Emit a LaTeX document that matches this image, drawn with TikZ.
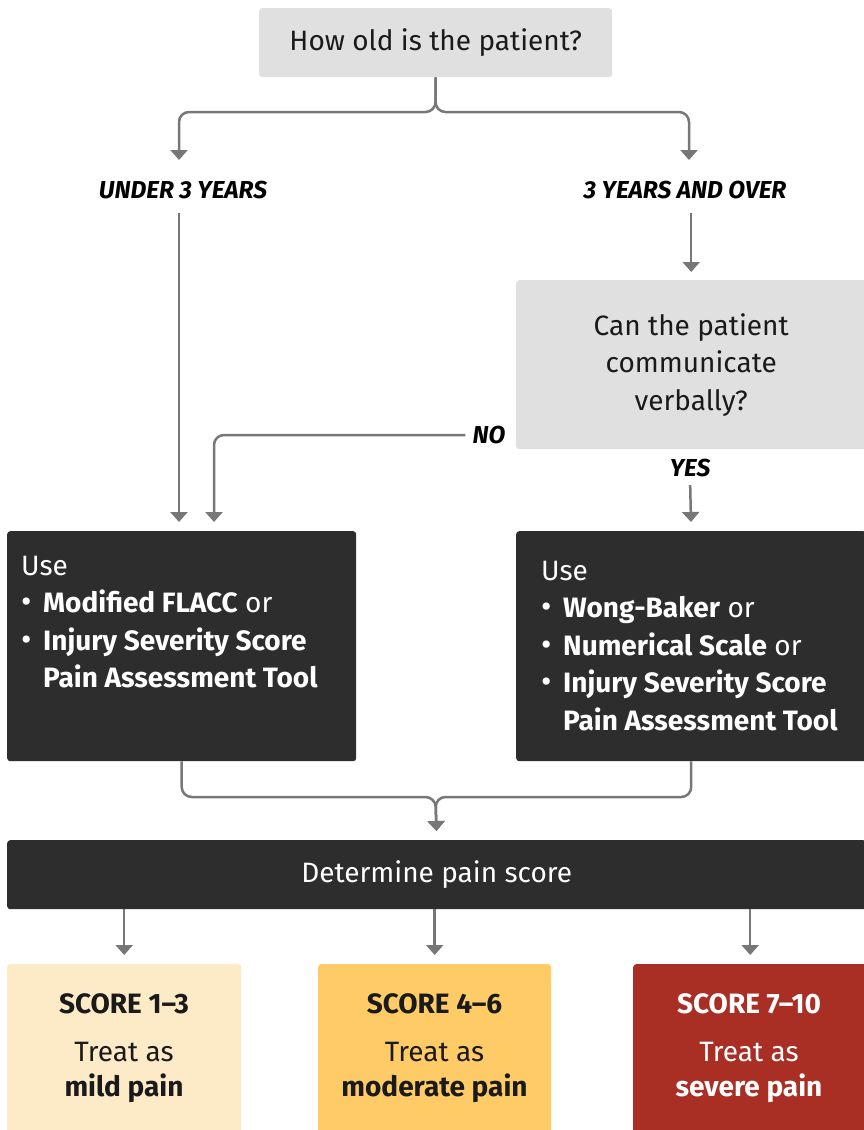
\documentclass[tikz,border=0pt]{standalone}
\usepackage{fontspec}
\setmainfont{Fira Sans}
\usetikzlibrary{arrows.meta,calc}
\definecolor{lgray}{HTML}{E0E0E0}
\definecolor{dark}{HTML}{2D2D2D}
\definecolor{lineg}{HTML}{777777}
\definecolor{mild}{HTML}{FDEBC8}
\definecolor{moder}{HTML}{FECB66}
\definecolor{severe}{HTML}{A92E24}
\definecolor{ink}{HTML}{1A1A1A}
\newcommand\blt{\makebox[22pt][l]{{\fontsize{32}{32}\selectfont•}}}
\newcommand\bsp{\makebox[22pt][l]{}}
\begin{document}
\begin{tikzpicture}[x=1pt,y=-1pt,
  box/.style={rounded corners=3pt, inner sep=0pt, anchor=north west},
  conn/.style={draw=lineg, line width=2.5pt, rounded corners=10pt},
  arr/.style={conn, -{Triangle[width=17pt,length=10pt]}},
  lab/.style={font=\fontsize{24.5}{28}\selectfont\bfseries\itshape, text=black, inner sep=0pt},
  txt/.style={font=\fontsize{28}{37.5}\selectfont, inner sep=0pt},
  stxt/.style={font=\fontsize{28}{35}\selectfont, inner sep=0pt},
]
\useasboundingbox (0,0) rectangle (864,1130);
% boxes
\node[box, fill=lgray, minimum width=353pt, minimum height=69pt, txt, text=ink] (q1) at (259,8) {How old is the patient?};
\node[box, fill=lgray, minimum width=350pt, minimum height=169pt, txt, text=ink, align=center] (dec) at (516,280) {Can the patient\\communicate\\verbally?};
\node[box, fill=dark, minimum width=349pt, minimum height=230pt] (lbox) at (7,531) {};
\node[box, fill=dark, minimum width=350pt, minimum height=230pt] (rbox) at (516,531) {};
\node[box, fill=dark, minimum width=859pt, minimum height=69pt, txt, text=white] (det) at (7,840) {Determine pain score};
\node[box, fill=mild, minimum width=234pt, minimum height=172pt] (s1) at (7,964) {};
\node[box, fill=moder, minimum width=233pt, minimum height=172pt] (s2) at (318,964) {};
\node[box, fill=severe, minimum width=234pt, minimum height=172pt] (s3) at (633,964) {};
% box texts
\node[txt, text=white, anchor=base west] (ltext) at (21,575) {\begin{tabular}[t]{@{}l@{}}Use\\
\blt\textbf{Modified FLACC} or\\
\blt\textbf{Injury Severity Score}\\
\bsp\textbf{Pain Assessment Tool}\end{tabular}};
\node[txt, text=white, anchor=base west] (rtext) at (541,580) {\begin{tabular}[t]{@{}l@{}}Use\\
\blt\textbf{Wong-Baker} or\\
\blt\textbf{Numerical Scale} or\\
\blt\textbf{Injury Severity Score}\\
\bsp\textbf{Pain Assessment Tool}\end{tabular}};
\node[stxt, text=ink, anchor=base] (t1) at (124,1013) {\begin{tabular}[t]{@{}c@{}}\textbf{SCORE 1–3}\\[13pt]Treat as\\\textbf{mild pain}\end{tabular}};
\node[stxt, text=ink, anchor=base] (t2) at (434.5,1013) {\begin{tabular}[t]{@{}c@{}}\textbf{SCORE 4–6}\\[13pt]Treat as\\\textbf{moderate pain}\end{tabular}};
\node[stxt, text=white, anchor=base] (t3) at (749,1013) {\begin{tabular}[t]{@{}c@{}}\textbf{SCORE 7–10}\\[13pt]Treat as\\\textbf{severe pain}\end{tabular}};
% labels
\node[lab] (under) at (183,190) {UNDER 3 YEARS};
\node[lab] (over) at (685,190) {3 YEARS AND OVER};
\node[lab] (no) at (489,435) {NO};
\node[lab] (yes) at (690,468) {YES};
% coordinates
\coordinate (j1) at (435.5,112);
\coordinate (uTip) at (179,160);
\coordinate (oTip) at (689,160);
\coordinate (lIn) at (179,531);
\coordinate (nIn) at (214,531);
\coordinate (m) at (435.5,797);
% connectors
\draw[arr] (q1.south) -- (j1) -| (uTip);
\draw[arr] (q1.south) -- (j1) -| (oTip);
\draw[arr, shorten <=14pt, shorten >=9pt] (under.south -| lIn) -- (lIn);
\draw[arr, shorten <=14pt, shorten >=8pt] (dec.north |- over.south) -- (dec.north);
\draw[arr, shorten <=7pt, shorten >=9pt] (no.west) -| (nIn);
\draw[arr, shorten <=8pt, shorten >=9pt] (yes.south) -- (rbox.north);
\draw[arr, shorten >=9pt] (lbox.south) |- (m) -- (det.north);
\draw[arr, shorten >=9pt] (rbox.south) |- (m) -- (det.north);
\draw[arr, shorten >=9pt] (det.south -| s1.north) -- (s1.north);
\draw[arr, shorten >=9pt] (det.south -| s2.north) -- (s2.north);
\draw[arr, shorten >=9pt] (det.south -| s3.north) -- (s3.north);
\end{tikzpicture}
\end{document}
